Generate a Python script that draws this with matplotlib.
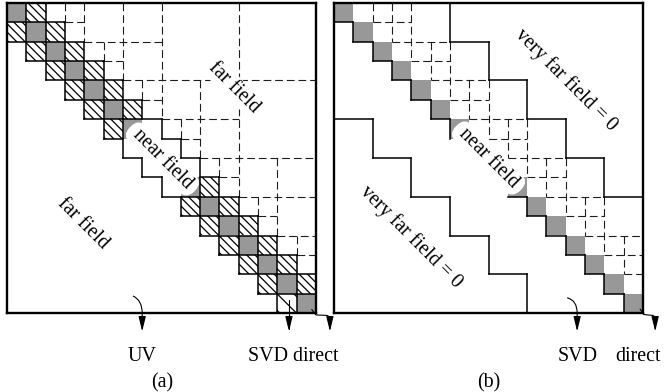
import matplotlib
matplotlib.use("Agg")
import matplotlib.pyplot as plt
from matplotlib.collections import LineCollection
from matplotlib.patches import FancyArrowPatch, Rectangle
from matplotlib.path import Path

plt.rcParams["font.family"] = ["Liberation Serif", "DejaVu Serif"]
plt.rcParams["hatch.linewidth"] = 0.9

# --- diagram structure (cell units) -------------------------------------------------
N = 16                          # diagonal cells per matrix
NEAR_ROWS = [6, 7, 8, 9]        # diagonal rows under the "near field" label
SVD_CELL = (15, 14)             # lightly hatched cell the SVD arrow points at
VF_GROUP = 2                    # (b) very-far staircase step, cells
VF_DIST = 3                     # group distance at which the far field is dropped

PANEL_LABELS = ["(a)", "(b)"]
REGION_A = ["far field", "far field", "near field"]
REGION_B = ["very far field = 0", "very far field = 0", "near field"]
ARROW_A = ["UV", "SVD direct"]
ARROW_B = ["SVD", "direct"]

GRAY = "#989898"
FS = 14.4
FRAME_LW = 1.7
SOLID_LW = 1.1
DASH_LW = 0.8
NEAR_BOX = "round,pad=0.12,rounding_size=0.55"


def hmatrix_blocks(r0, c0, size):
    """Strong admissibility on index clusters: leaf when gap >= size (or size 1)."""
    gap = max(c0 - (r0 + size), r0 - (c0 + size), 0)
    if size == 1 or gap >= size:
        return [(r0, c0, size)]
    h = size // 2
    out = []
    for dr in (0, h):
        for dc in (0, h):
            out += hmatrix_blocks(r0 + dr, c0 + dc, h)
    return out


def cell_edges(r, c, h=1, w=1):
    e = set()
    for x in range(c, c + w):
        e.add(("h", r, x))
        e.add(("h", r + h, x))
    for y in range(r, r + h):
        e.add(("v", c, y))
        e.add(("v", c + w, y))
    return e


def sides(edge):
    kind, a, b = edge
    if kind == "h":
        return (a - 1, b), (a, b)
    return (b, a - 1), (b, a)


def inside(cell):
    return 0 <= cell[0] < N and 0 <= cell[1] < N


def merge(edges):
    """unit edges -> merged straight runs so dash phases line up."""
    runs = {}
    for kind, a, b in edges:
        if a in (0, N):
            continue  # on the frame
        runs.setdefault((kind, a), []).append(b)
    segs = []
    for (kind, a), bs in runs.items():
        bs.sort()
        start = prev = bs[0]
        for b in bs[1:] + [None]:
            if b is not None and b == prev + 1:
                prev = b
                continue
            if kind == "h":
                segs.append([(start, a), (prev + 1, a)])
            else:
                segs.append([(a, start), (a, prev + 1)])
            if b is not None:
                start = prev = b
    return segs


def setup(ax):
    ax.set_xlim(0, N)
    ax.set_ylim(N, 0)
    ax.set_xticks([])
    ax.set_yticks([])
    for s in ax.spines.values():
        s.set_linewidth(FRAME_LW)
        s.set_zorder(10)


def draw_lines(ax, solid, dashed):
    ax.add_collection(LineCollection(merge(dashed), colors="#1e1e1e", linewidths=DASH_LW,
                                     linestyles=[(0, (7, 3.5))], zorder=3))
    ax.add_collection(LineCollection(merge(solid), colors="black", linewidths=SOLID_LW,
                                     zorder=4, capstyle="projecting"))


def region_text(ax, x, y, s, boxstyle="square,pad=0.1"):
    ax.text(x, y, s, rotation=-45, rotation_mode="anchor", ha="center", va="center",
            fontsize=FS, zorder=6,
            bbox=dict(boxstyle=boxstyle, fc="white", ec="none"))


def arrow(ax, verts, codes):
    p = FancyArrowPatch(path=Path(verts, codes), arrowstyle="-|>,head_length=9,head_width=2.2",
                        mutation_scale=1, color="black", lw=0.8, clip_on=False,
                        transform=ax.transData, zorder=7)
    ax.add_patch(p)


M, L, C = Path.MOVETO, Path.LINETO, Path.CURVE3
blocks = hmatrix_blocks(0, 0, N)
upper = [b for b in blocks if b[1] > b[0]]
near_mid = NEAR_ROWS[1:-1]

fig = plt.figure(figsize=(6.64, 3.92), dpi=100)
ax_a = fig.add_axes([7 / 664, 1 - 313 / 392, 309 / 664, 310 / 392])
ax_b = fig.add_axes([334 / 664, 1 - 313 / 392, 309 / 664, 310 / 392])

# ---------------- panel (a) ----------------
setup(ax_a)
band = {(i, j) for i in range(N) for j in range(N) if abs(i - j) <= 1}
hatched = [(i, j) for (i, j) in band if i != j
           and not (min(i, j) >= NEAR_ROWS[0] and max(i, j) <= NEAR_ROWS[-1])]
for i in range(N):
    if i not in near_mid:
        ax_a.add_patch(Rectangle((i, i), 1, 1, fc=GRAY, ec="none", zorder=1))
solid_a = set()
for (i, j) in hatched:
    h = r"\\" if (i, j) == SVD_CELL else r"\\\\"
    ax_a.add_patch(Rectangle((j, i), 1, 1, fc="white", ec="black", lw=0, hatch=h, zorder=1))
    solid_a |= cell_edges(i, j)
all_edges = set()
for i in range(N):
    for j in range(N):
        all_edges |= cell_edges(i, j)
for e in all_edges:
    s1, s2 = sides(e)
    if inside(s1) and inside(s2) and ((s1 in band) != (s2 in band)):
        solid_a.add(e)
dashed_a = set()
for (r0, c0, sz) in upper:
    for e in cell_edges(r0, c0, sz, sz):
        s1, s2 = sides(e)
        if s1 in band and s2 in band:
            continue
        dashed_a.add(e)
draw_lines(ax_a, solid_a, dashed_a - solid_a)

region_text(ax_a, 11.76, 4.38, REGION_A[0])
region_text(ax_a, 3.95, 11.4, REGION_A[1])
region_text(ax_a, 8.05, 8.05, " " + REGION_A[2] + " ", NEAR_BOX)

arrow(ax_a, [(6.54, 15.13), (7.0, 15.35), (7.0, 16.0), (7.0, 16.95)], [M, C, C, L])
arrow(ax_a, [(14.6, 15.35), (14.6, 16.95)], [M, L])
arrow(ax_a, [(15.78, 15.82), (16.0, 16.1), (16.5, 16.12), (16.72, 16.12), (16.72, 16.35),
             (16.72, 16.95)], [M, L, L, C, C, L])
ax_a.text(7.0, 18.5, ARROW_A[0], ha="center", va="baseline", fontsize=FS)
ax_a.text(12.49, 18.5, ARROW_A[1], ha="left", va="baseline", fontsize=FS)
ax_a.text(8.03, 19.85, PANEL_LABELS[0], ha="center", va="baseline", fontsize=FS)

# ---------------- panel (b) ----------------
setup(ax_b)


def very_far(cell):
    return abs(cell[0] // VF_GROUP - cell[1] // VF_GROUP) >= VF_DIST


for i in range(N):
    if i not in near_mid:
        ax_b.add_patch(Rectangle((i, i), 1, 1, fc=GRAY, ec="none", zorder=1))
solid_b = set()
for e in all_edges:
    s1, s2 = sides(e)
    if inside(s1) and inside(s2) and very_far(s1) != very_far(s2):
        solid_b.add(e)
for i in range(N):
    if i >= 1 and i not in NEAR_ROWS[1:]:
        solid_b.add(("v", i, i))
    if i < N - 1 and i not in NEAR_ROWS[:-1]:
        solid_b.add(("h", i + 1, i))
diag_touch = {("h", i, i) for i in range(N)} | {("v", i + 1, i) for i in range(N)}
dashed_b = set()
for (r0, c0, sz) in upper:
    for e in cell_edges(r0, c0, sz, sz):
        s1, s2 = sides(e)
        far1 = not inside(s1) or very_far(s1)
        far2 = not inside(s2) or very_far(s2)
        if far1 and far2:
            continue
        dashed_b.add(e)
draw_lines(ax_b, solid_b, dashed_b - solid_b - diag_touch)

region_text(ax_b, 12.0, 4.0, REGION_B[0])
region_text(ax_b, 4.0, 12.07, REGION_B[1])
region_text(ax_b, 8.0, 8.0, " " + REGION_B[2] + " ", NEAR_BOX)

arrow(ax_b, [(12.09, 15.22), (12.59, 15.35), (12.59, 16.0), (12.59, 16.95)], [M, C, C, L])
arrow(ax_b, [(15.85, 15.8), (16.05, 16.08), (16.45, 16.12), (16.63, 16.12), (16.63, 16.35),
             (16.63, 16.95)], [M, L, L, C, C, L])
ax_b.text(12.59, 18.5, ARROW_B[0], ha="center", va="baseline", fontsize=FS)
ax_b.text(14.56, 18.5, ARROW_B[1], ha="left", va="baseline", fontsize=FS)
ax_b.text(8.03, 19.85, PANEL_LABELS[1], ha="center", va="baseline", fontsize=FS)

fig.savefig("out.png", dpi=100)
